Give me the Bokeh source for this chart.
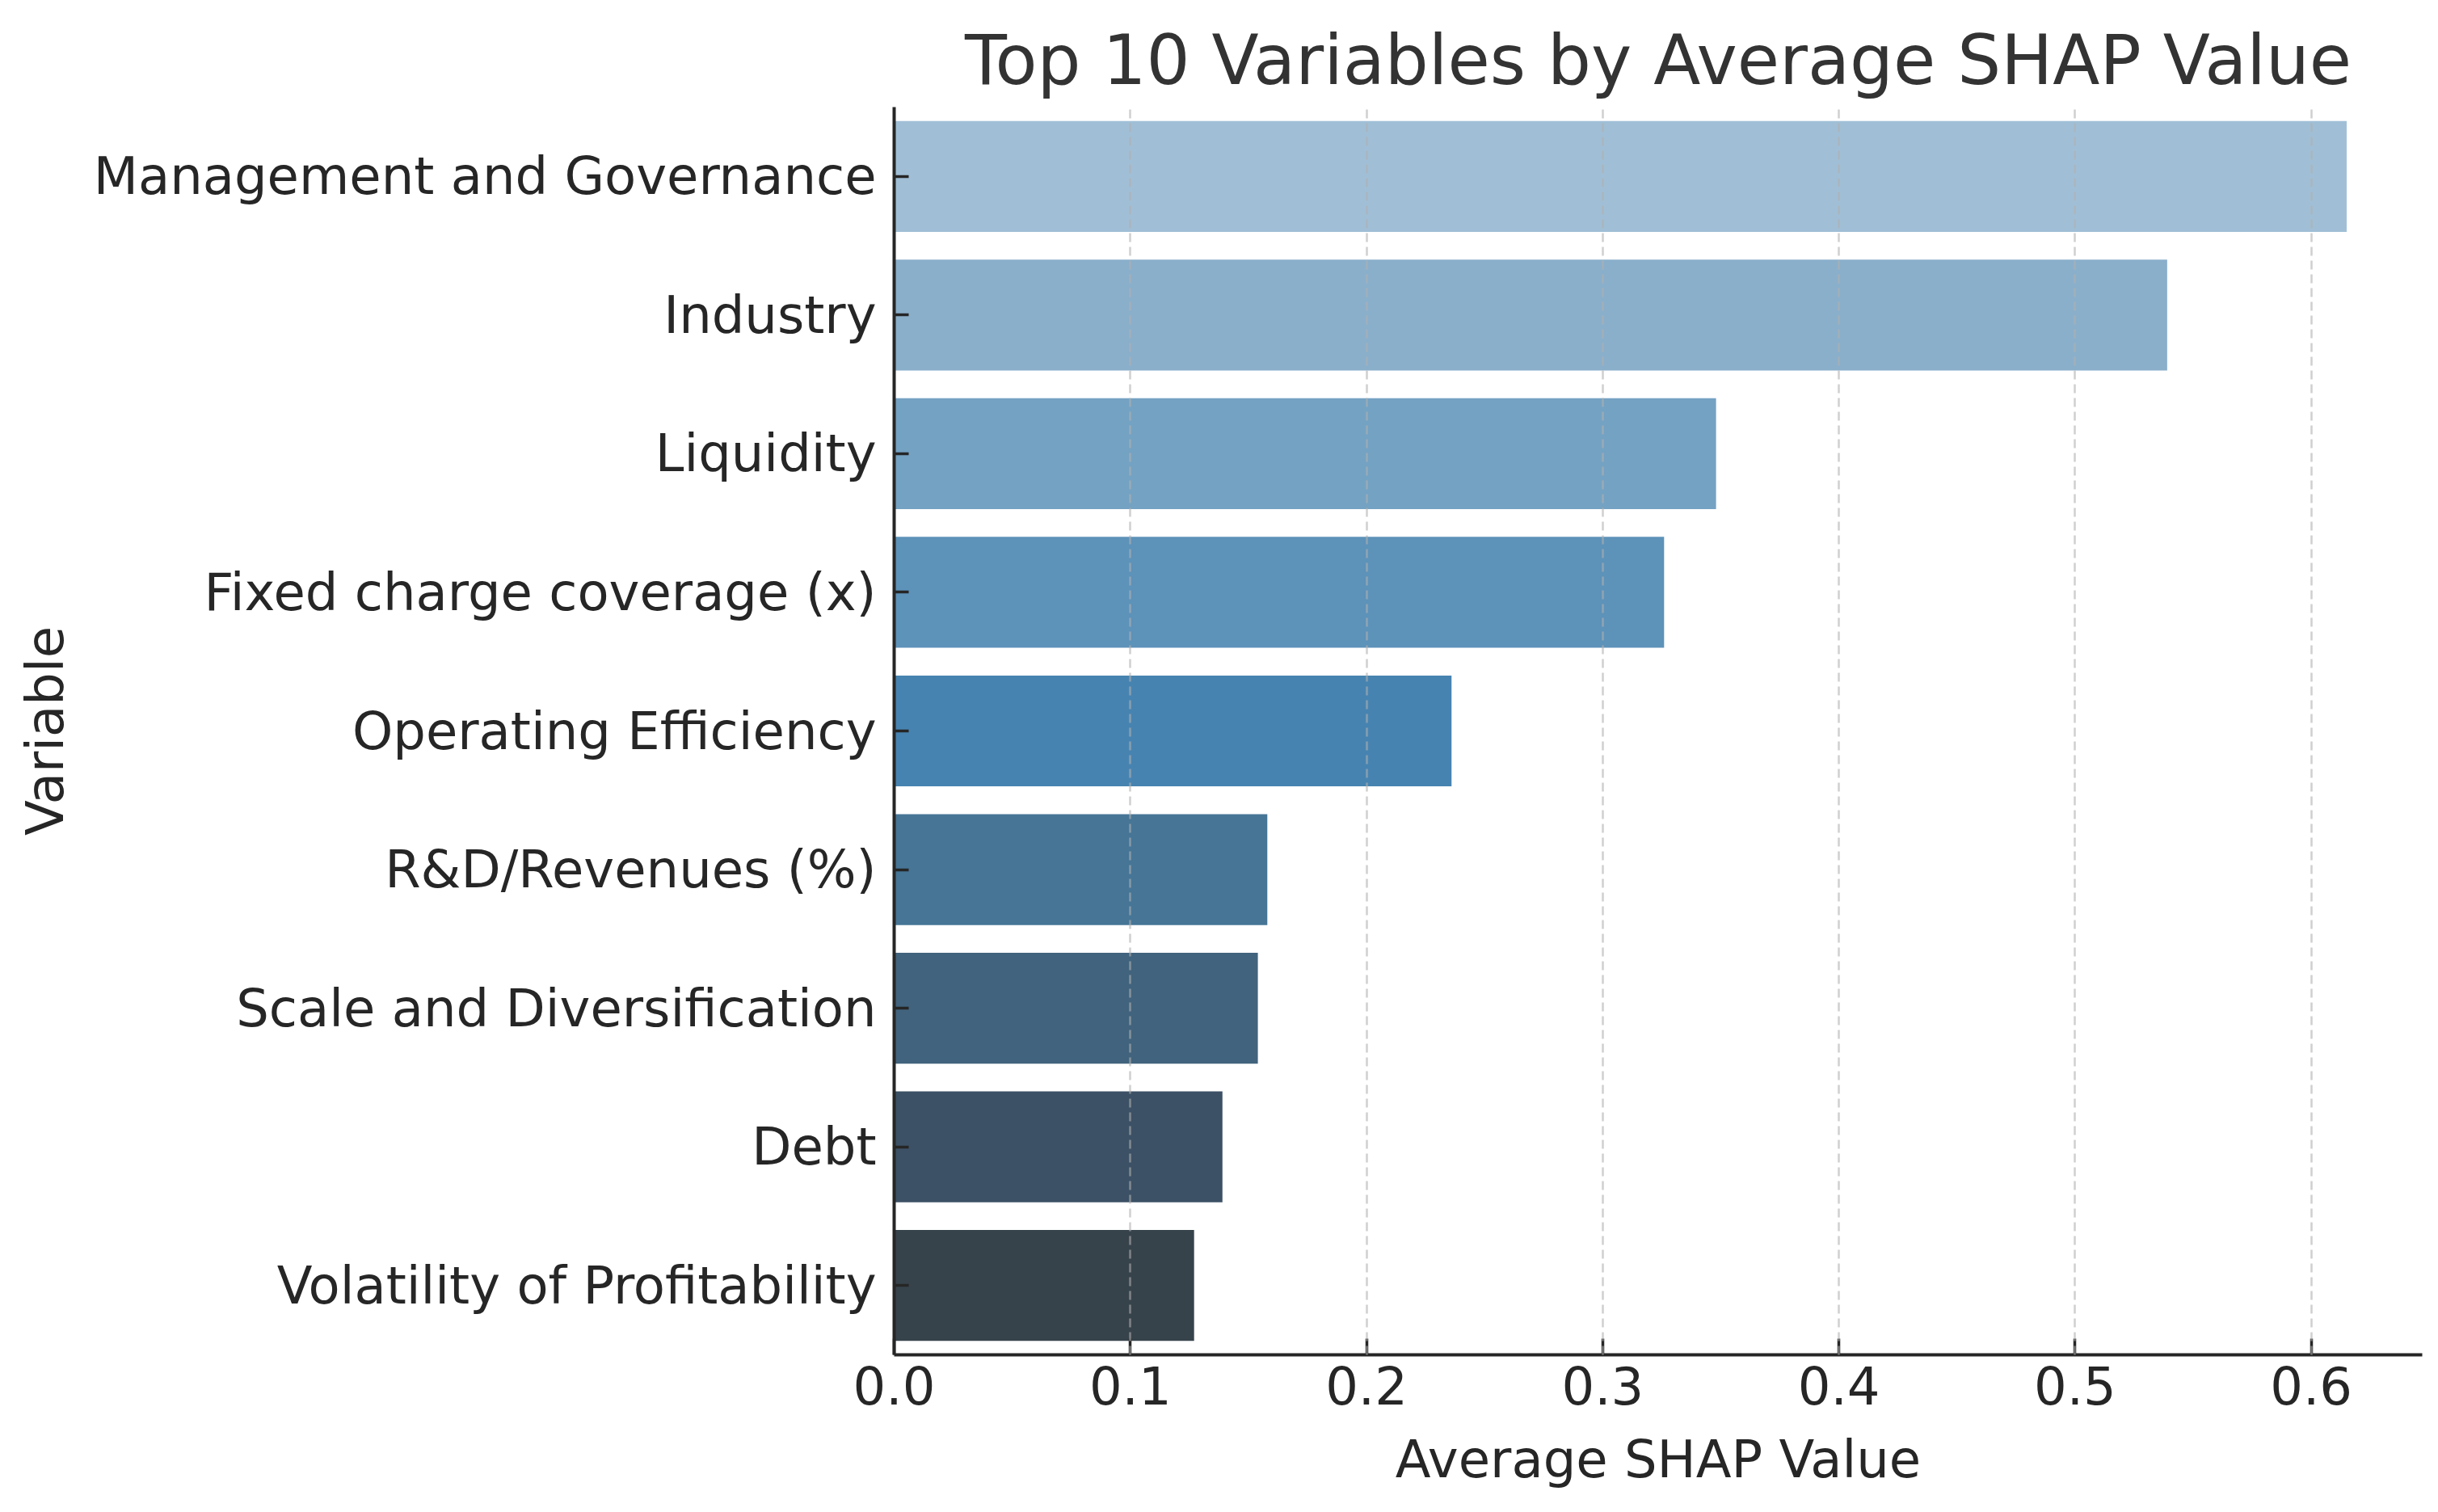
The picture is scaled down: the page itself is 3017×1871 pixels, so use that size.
from bokeh.plotting import figure
from bokeh.models import FactorRange, Range1d, FixedTicker, NumeralTickFormatter, ColumnDataSource
from bokeh.embed import file_html
from bokeh.resources import INLINE

# ---- data ----
categories = [
    "Management and Governance",
    "Industry",
    "Liquidity",
    "Fixed charge coverage (x)",
    "Operating Efficiency",
    "R&D/Revenues (%)",
    "Scale and Diversification",
    "Debt",
    "Volatility of Profitability",
]
shap_values = [0.615, 0.539, 0.348, 0.326, 0.236, 0.158, 0.154, 0.139, 0.127]
bar_colors = ["#a0bfd6", "#8aafcb", "#74a2c3", "#5d92b9", "#4783b0",
              "#467596", "#41637d", "#3c5165", "#37434b"]
x_ticks = [0.0, 0.1, 0.2, 0.3, 0.4, 0.5, 0.6]

title_text = "Top 10 Variables by Average SHAP Value"
x_label = "Average SHAP Value"
y_label = "Variable"

FONT = "DejaVu Sans"
TEXT = "#262626"

source = ColumnDataSource(dict(cat=categories, val=shap_values, color=bar_colors))

p = figure(
    width=3001, height=1855,
    y_range=FactorRange(factors=list(reversed(categories))),
    x_range=Range1d(0, 0.647),
    output_backend="svg", toolbar_location=None,
    min_border_left=1106, min_border_right=4,
    min_border_top=132, min_border_bottom=179,
)

p.hbar(y="cat", right="val", left=0, height=0.8, fill_color="color",
       line_color=None, source=source)

# title
p.title.text = title_text
p.title.align = "center"
p.title.text_font = FONT
p.title.text_font_size = "85px"
p.title.text_font_style = "normal"
p.title.text_color = "#333333"
p.title.standoff = 18

p.outline_line_color = None
p.background_fill_color = "white"
p.border_fill_color = "white"

# x axis
xa = p.xaxis[0]
xa.ticker = FixedTicker(ticks=x_ticks)
xa.formatter = NumeralTickFormatter(format="0.0")
xa.axis_label = x_label
xa.axis_label_text_font = FONT
xa.axis_label_text_font_size = "64px"
xa.axis_label_text_font_style = "normal"
xa.axis_label_text_color = TEXT
xa.axis_label_standoff = 28
xa.major_label_text_font = FONT
xa.major_label_text_font_size = "64px"
xa.major_label_text_color = TEXT
xa.major_label_standoff = 14
xa.axis_line_width = 4
xa.axis_line_color = TEXT
xa.major_tick_in = 20
xa.major_tick_out = 0
xa.major_tick_line_width = 3.5
xa.major_tick_line_color = TEXT
xa.minor_tick_line_color = None

# y axis
ya = p.yaxis[0]
ya.axis_label = y_label
ya.axis_label_text_font = FONT
ya.axis_label_text_font_size = "64px"
ya.axis_label_text_font_style = "normal"
ya.axis_label_text_color = TEXT
ya.axis_label_standoff = 20
ya.major_label_text_font = FONT
ya.major_label_text_font_size = "64px"
ya.major_label_text_color = TEXT
ya.major_label_standoff = 22
ya.axis_line_width = 4
ya.axis_line_color = TEXT
ya.major_tick_in = 18
ya.major_tick_out = 0
ya.major_tick_line_width = 3.5
ya.major_tick_line_color = TEXT

# grid
p.ygrid.grid_line_color = None
p.xgrid.ticker = FixedTicker(ticks=x_ticks)
p.xgrid.grid_line_color = "#b0b0b0"
p.xgrid.grid_line_alpha = 0.6
p.xgrid.grid_line_width = 2.5
p.xgrid.grid_line_dash = "11 6"
p.xgrid.level = "overlay"

open("out.html", "w").write(file_html(p, INLINE))
